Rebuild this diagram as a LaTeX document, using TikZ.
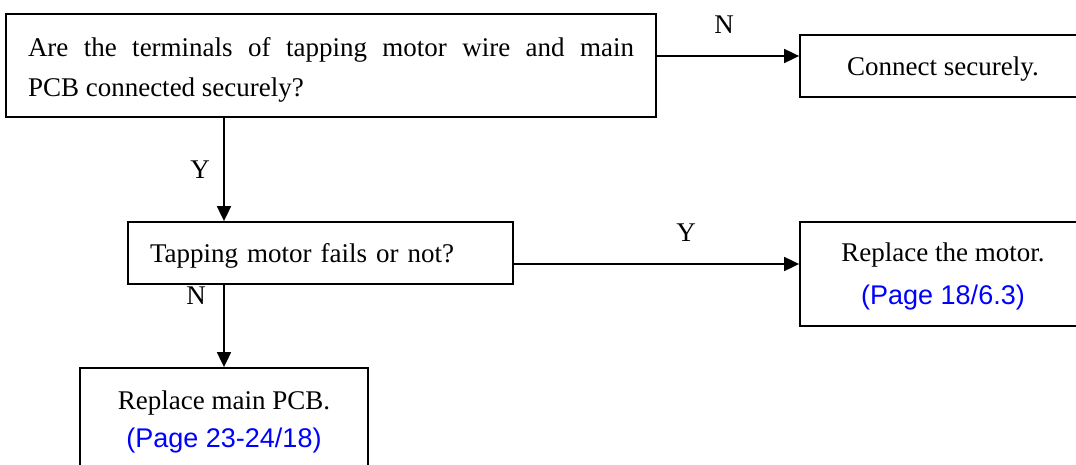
\documentclass[tikz,border=0pt]{standalone}
\usepackage{fontspec}
\setmainfont{Liberation Serif}
\newfontfamily\pagefont{Liberation Sans}
\usetikzlibrary{arrows.meta}

\begin{document}
\begin{tikzpicture}[x=1pt,y=-1pt,
box/.style={rectangle,draw=black,line width=1.8pt,inner sep=0pt,text depth=-1pt,font=\fontsize{27}{40}\selectfont},
answer/.style={font=\fontsize{27}{32}\selectfont,inner sep=0pt}]

\tikzset{flowarrow/.style={-{Triangle[length=15pt,width=14pt]}, line width=1.8pt}}

\useasboundingbox (0,0) rectangle (1076,465);
\clip (0,0) rectangle (1076,465);

\node[box, text width=606pt, inner xsep=22pt, minimum height=103pt, align=justify, text depth=37pt] (question) at (331,65.5) {Are the terminals of tapping motor wire and main\linebreak PCB connected securely?};
\node[box, minimum width=286pt, minimum height=62pt] (connect) at (943,66) {Connect securely.};
\node[box, text width=341pt, inner xsep=22pt, minimum height=62pt, align=left, text depth=-5pt] (tapping) at (320.5,253) {Tapping motor fails or not?};
\node[box, minimum width=286pt, minimum height=104pt, align=center, text depth=-7pt] (motor) at (943,274) {Replace the motor.\\[3pt]{\pagefont\color{blue}(Page 18/6.3)}};
\node[box, minimum width=288pt, minimum height=102pt, align=center] (pcb) at (224,419) {Replace main PCB.\\[-2pt]{\pagefont\color{blue}(Page 23-24/18)}};

\coordinate (nlevel) at (0,56);
\coordinate (ylevel) at (0,264);

\node[answer] (n1) at (724,25) {N};
\node[answer] (y1) at (200,170) {Y};
\node[answer] (y2) at (686,233) {Y};
\node[answer] (n2) at (196,296) {N};

\draw[flowarrow] (question.east |- nlevel) -- (connect.west |- nlevel);
\draw[flowarrow] (question.south -| pcb.north) -- (tapping.north -| pcb.north);
\draw[flowarrow] (tapping.east |- ylevel) -- (motor.west |- ylevel);
\draw[flowarrow] (tapping.south -| pcb.north) -- (pcb.north);

\end{tikzpicture}
\end{document}
